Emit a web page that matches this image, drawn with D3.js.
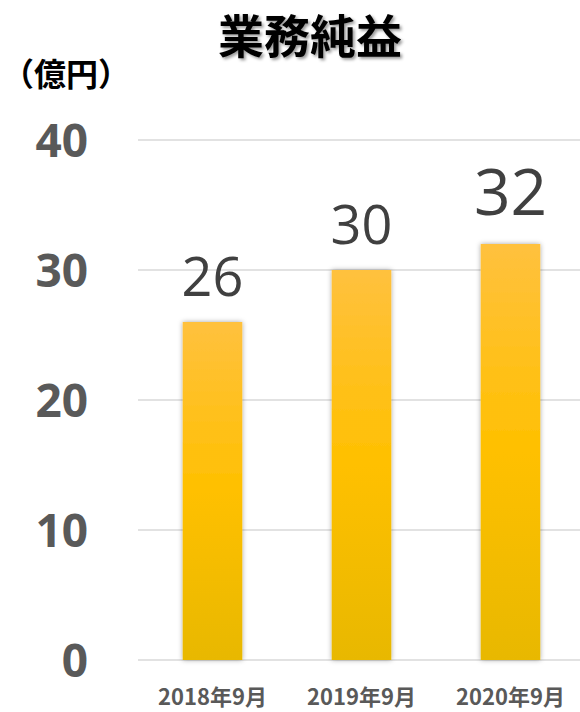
<!DOCTYPE html>
<html>
<head>
<meta charset="utf-8">
<script src="https://cdn.jsdelivr.net/npm/d3@7"></script>
<style>
  body { margin: 0; background: #fff; }
  svg { display: block; }
</style>
</head>
<body>
<div id="chart"></div>
<script>
'use strict';

const periods = ['2018年9月', '2019年9月', '2020年9月'];
const values = [26, 30, 32];
const yTicks = [0, 10, 20, 30, 40];

const width = 580, height = 712;
const cjk = '"Noto Sans CJK JP", "Noto Sans", sans-serif';
const latin = '"Open Sans", "Noto Sans", sans-serif';

const svg = d3.select('#chart').append('svg')
  .attr('width', width).attr('height', height);

const defs = svg.append('defs');
const grad = defs.append('linearGradient')
  .attr('id', 'barFill').attr('x1', 0).attr('y1', 0).attr('x2', 0).attr('y2', 1);
grad.append('stop').attr('offset', '0%').attr('stop-color', '#ffc13e');
grad.append('stop').attr('offset', '50%').attr('stop-color', '#ffc000');
grad.append('stop').attr('offset', '100%').attr('stop-color', '#e8b800');

const shadow = defs.append('filter').attr('id', 'barShadow')
  .attr('x', '-20%').attr('y', '-5%').attr('width', '140%').attr('height', '110%');
shadow.append('feDropShadow')
  .attr('dx', 0).attr('dy', 0).attr('stdDeviation', 2.5)
  .attr('flood-color', '#000').attr('flood-opacity', 0.35);

const titleShadow = defs.append('filter').attr('id', 'titleShadow');
titleShadow.append('feDropShadow')
  .attr('dx', 2).attr('dy', 2).attr('stdDeviation', 1.5)
  .attr('flood-color', '#000').attr('flood-opacity', 0.4);

const x = d3.scaleBand().domain(periods).range([138, 585]).paddingInner(0.6).paddingOuter(0.3);
const y = d3.scaleLinear().domain([0, 40]).range([660, 140]);

// gridlines
svg.append('g').selectAll('line').data(yTicks).enter().append('line')
  .attr('x1', 138).attr('x2', width)
  .attr('y1', d => y(d)).attr('y2', d => y(d))
  .attr('stroke', '#d9d9d9').attr('stroke-width', 1.5);

// y axis labels
const yAxis = d3.axisLeft(y).tickValues(yTicks).tickSize(0).tickPadding(0);
const gy = svg.append('g').attr('transform', 'translate(88,0)').call(yAxis);
gy.select('.domain').remove();
gy.selectAll('text')
  .attr('font-family', latin).attr('font-weight', 700)
  .attr('font-size', 46).attr('fill', '#595959').attr('dy', '0.36em');

// bars
svg.append('g').selectAll('rect').data(values).enter().append('rect')
  .attr('x', (d, i) => x(periods[i]))
  .attr('width', x.bandwidth())
  .attr('y', d => y(d))
  .attr('height', d => y(0) - y(d))
  .attr('fill', 'url(#barFill)')
  .attr('filter', 'url(#barShadow)');

// value labels, last one larger
svg.append('g').selectAll('text').data(values).enter().append('text')
  .attr('x', (d, i) => x(periods[i]) + x.bandwidth() / 2)
  .attr('y', (d, i) => y(d) - (i === values.length - 1 ? 29 : 26))
  .attr('text-anchor', 'middle')
  .attr('font-family', latin)
  .attr('font-size', (d, i) => i === values.length - 1 ? 64 : 54)
  .attr('fill', '#404040')
  .text(d => d);

// x labels
const xAxis = d3.axisBottom(x).tickSize(0).tickPadding(0);
const gx = svg.append('g').attr('transform', 'translate(0,697)').call(xAxis);
gx.select('.domain').remove();
gx.selectAll('text')
  .attr('font-family', cjk).attr('font-weight', 700)
  .attr('font-size', 22).attr('fill', '#595959').attr('dy', '0.35em');

// title and unit
svg.append('text')
  .attr('x', 310).attr('y', 53)
  .attr('text-anchor', 'middle')
  .attr('font-family', cjk).attr('font-weight', 700)
  .attr('font-size', 46).attr('fill', '#000')
  .attr('filter', 'url(#titleShadow)')
  .text('業務純益');

svg.append('text')
  .attr('x', 2).attr('y', 86)
  .attr('font-family', cjk).attr('font-weight', 700)
  .attr('font-size', 32).attr('fill', '#000')
  .text('（億円）');
</script>
</body>
</html>
